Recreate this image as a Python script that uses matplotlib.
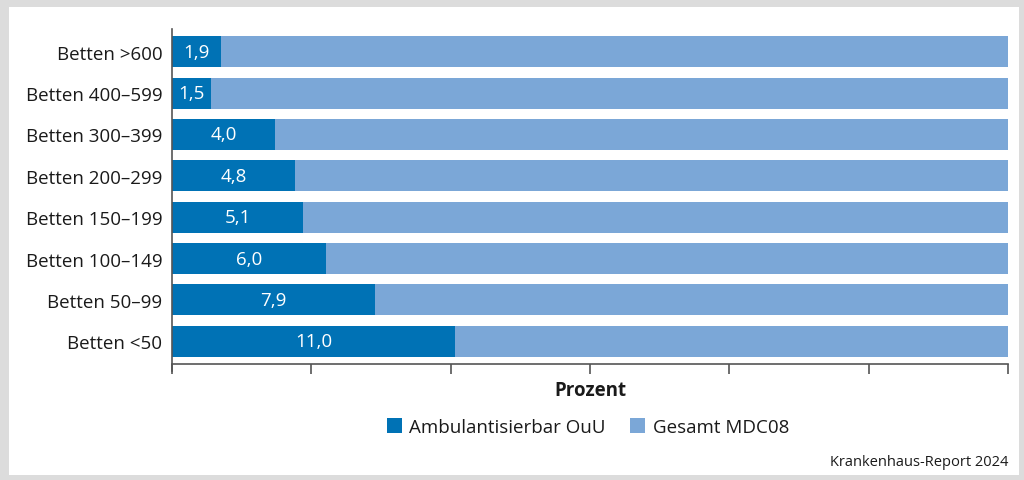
import numpy as np
import matplotlib.pyplot as plt
from matplotlib.patches import Rectangle, Patch

plt.rcParams['font.family'] = ['Open Sans', 'DejaVu Sans']

categories = ['Betten >600', 'Betten 400–599', 'Betten 300–399', 'Betten 200–299',
              'Betten 150–199', 'Betten 100–149', 'Betten 50–99', 'Betten <50']
ambulant = [1.9, 1.5, 4.0, 4.8, 5.1, 6.0, 7.9, 11.0]
gesamt_total = 32.5
series_names = ['Ambulantisierbar OuU', 'Gesamt MDC08']
source = 'Krankenhaus-Report 2024'

dark = '#0072b5'
light = '#7ba7d7'
axis_col = '#555555'
txt = '#1a1a1a'

W, H = 1024, 481
fig = plt.figure(figsize=(W / 100, H / 100), dpi=100, facecolor='#dcdcdc')
# white card inside the grey frame
fig.patches.append(Rectangle((9 / W, 5 / H), (1019 - 9) / W, (H - 8 - 5) / H,
                             transform=fig.transFigure, facecolor='white',
                             edgecolor='none', zorder=-5))

ax = fig.add_axes([172 / W, 1 - 365 / H, (1008 - 172) / W, (365 - 30) / H])
ax.set_facecolor('none')
ax.set_zorder(2)

y = np.arange(len(categories))
amb = np.array(ambulant)
rest = gesamt_total - amb
ax.barh(y, amb, height=0.75, color=dark, zorder=2)
ax.barh(y, rest, left=amb, height=0.75, color=light, zorder=2)

for yi, v in zip(y, amb):
    ax.text(v / 2, yi, f'{v:.1f}'.replace('.', ','), ha='center', va='center',
            color='white', fontsize=13.5, zorder=3)

ax.set_xlim(0, gesamt_total)
ax.set_ylim(7.55, -0.55)
ax.set_yticks(y, categories, fontsize=13.5, color=txt)
ax.set_xticks(np.linspace(0, gesamt_total, 7), [])
ax.tick_params(axis='y', length=0, pad=7)
ax.tick_params(axis='x', length=7, width=1.2, color=axis_col, direction='out')
for s in ['top', 'right']:
    ax.spines[s].set_visible(False)
for s in ['left', 'bottom']:
    ax.spines[s].set_color(axis_col)
    ax.spines[s].set_linewidth(1.2)
ax.spines['left'].set_bounds(-0.55, 7.55 + 7 / 41.4)

fig.text(590 / W, 1 - 391 / H, 'Prozent', ha='center', va='center',
         fontsize=13.5, fontweight='bold', color=txt)

handles = [Patch(facecolor=dark, edgecolor='none'), Patch(facecolor=light, edgecolor='none')]
fig.legend(handles, series_names, loc='center', bbox_to_anchor=(588 / W, 1 - 428 / H),
           ncol=2, frameon=False, fontsize=13.5, handlelength=0.8, handleheight=0.8,
           handletextpad=0.4, columnspacing=1.3, labelcolor=txt)

fig.text(1008 / W, 1 - 463 / H, source, ha='right', va='center',
         fontsize=10.5, color=txt)

fig.savefig('out.png', dpi=100, facecolor=fig.get_facecolor())
